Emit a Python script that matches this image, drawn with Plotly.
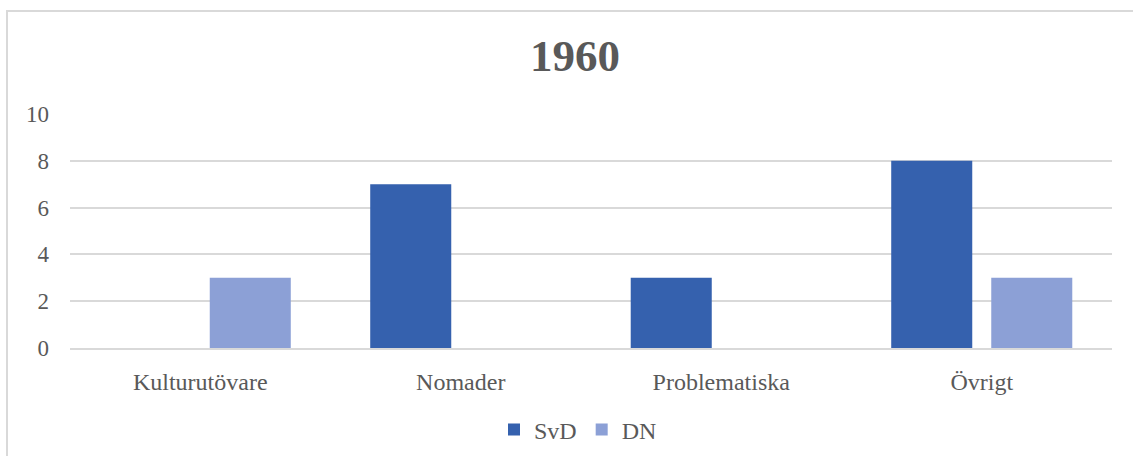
import plotly.graph_objects as go

categories = ["Kulturutövare", "Nomader", "Problematiska", "Övrigt"]
svd = [0, 7, 3, 8]
dn = [3, 0, 0, 3]
title = "1960"
tick_vals = [0, 2, 4, 6, 8, 10]

W, H = 1133, 456
L, R, T, B = 70, 21, 114, 108
pw, ph = W - L - R, H - T - B

font = "Liberation Serif, Times New Roman, serif"
grey = "#595959"

fig = go.Figure()
fig.add_trace(go.Bar(name="SvD", x=categories, y=svd, marker=dict(color="#3561AE", line=dict(width=0))))
fig.add_trace(go.Bar(name="DN", x=categories, y=dn, marker=dict(color="#8CA0D6", line=dict(width=0))))

def px(xp):
    return (xp - L) / pw

def py(yp):
    return (H - B - yp) / ph

fig.update_layout(
    width=W, height=H,
    margin=dict(l=L, r=R, t=T, b=B, autoexpand=False),
    paper_bgcolor="white", plot_bgcolor="white",
    barmode="group", bargap=0.232, bargroupgap=0.19,
    title=dict(text="<b>" + title + "</b>", x=575 / W, xanchor="center", y=1 - 55 / H, yanchor="middle",
               font=dict(family=font, size=45, color=grey)),
    font=dict(family=font, size=22, color=grey),
    xaxis=dict(showgrid=False, showline=True, linecolor="#d9d9d9", linewidth=1.5, ticks="",
               tickfont=dict(family=font, size=24, color=grey), ticklabelstandoff=11, automargin=False),
    yaxis=dict(range=[0, 10], tickvals=tick_vals, showgrid=True, gridcolor="#d9d9d9", gridwidth=1.5,
               zeroline=False, showline=False, ticks="", automargin=False,
               tickfont=dict(family=font, size=23, color=grey), ticklabelstandoff=20),
    legend=dict(orientation="h", x=px(578), xanchor="center", y=py(430), yanchor="middle",
                font=dict(family=font, size=24, color=grey), itemwidth=30, traceorder="normal"),
    shapes=[dict(type="rect", xref="paper", yref="paper",
                 x0=px(7), x1=px(1145), y0=py(470), y1=py(11),
                 line=dict(color="#d9d9d9", width=2), fillcolor="rgba(0,0,0,0)", layer="below")],
)

fig.write_html("out.html", config={"displayModeBar": False},
               post_script="document.body.style.margin='0';document.body.style.overflow='hidden';")
